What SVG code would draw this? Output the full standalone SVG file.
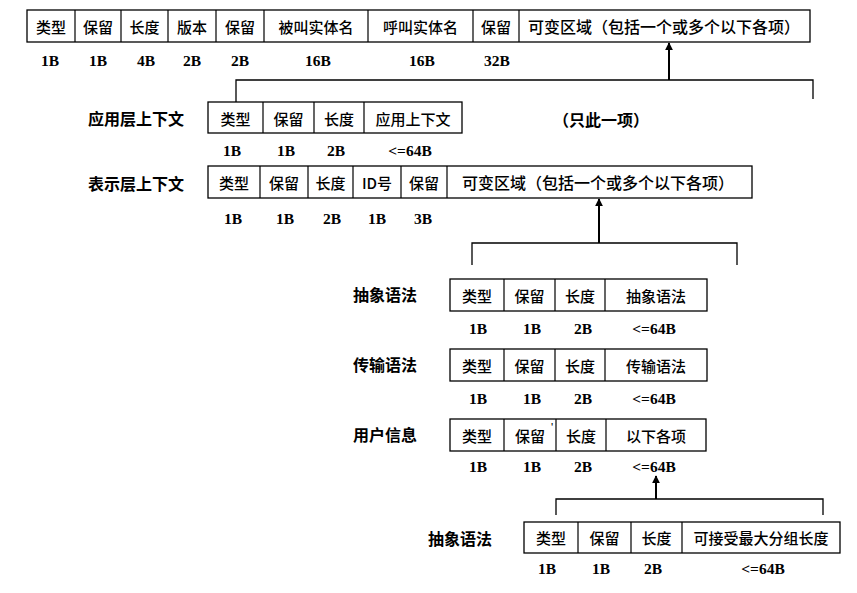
<svg xmlns="http://www.w3.org/2000/svg" width="857" height="593" viewBox="0 0 857 593">
<style>
.box{fill:#fff;stroke:#000;stroke-width:1.3}
.dv{stroke:#000;stroke-width:1.2}
.t{font-family:"Noto Sans CJK SC","Noto Sans",sans-serif;font-size:15px;font-weight:500;fill:#000;text-anchor:middle;dominant-baseline:central}
.lb{font-family:"Noto Sans CJK SC","Noto Sans",sans-serif;font-size:16px;font-weight:bold;fill:#000;dominant-baseline:central}
.n{font-family:"Liberation Serif","Noto Serif CJK SC",serif;font-size:15.5px;font-weight:bold;fill:#000;text-anchor:middle;dominant-baseline:central}
.cn{fill:none;stroke:#000;stroke-width:1.3}
.ar{fill:none;stroke:#000;stroke-width:2}
</style>
<defs>
<marker id="ah" viewBox="0 0 10 10" refX="9" refY="5" markerWidth="4" markerHeight="4.5" orient="auto" markerUnits="strokeWidth">
<path d="M0,0 L10,5 L0,10 z" fill="#000"/>
</marker>
</defs>
<rect width="857" height="593" fill="#fff"/>

<g id="top-pdu">
<rect class="box" x="27" y="10" width="783" height="32"/>
<path class="dv" d="M75,10V42M121,10V42M168,10V42M216,10V42M264,10V42M368,10V42M473,10V42M519,10V42"/>
<text class="t" x="51" y="26">类型</text>
<text class="t" x="98" y="26">保留</text>
<text class="t" x="144.5" y="26">长度</text>
<text class="t" x="192" y="26">版本</text>
<text class="t" x="240" y="26">保留</text>
<text class="t" x="316" y="26">被叫实体名</text>
<text class="t" x="420.5" y="26">呼叫实体名</text>
<text class="t" x="496" y="26">保留</text>
<text class="t" x="664" y="26" style="font-size:16px">可变区域（包括一个或多个以下各项）</text>
<text class="n" x="50" y="60">1B</text>
<text class="n" x="98" y="60">1B</text>
<text class="n" x="146" y="60">4B</text>
<text class="n" x="192" y="60">2B</text>
<text class="n" x="240" y="60">2B</text>
<text class="n" x="318" y="60">16B</text>
<text class="n" x="422" y="60">16B</text>
<text class="n" x="497" y="60">32B</text>
</g>

<g id="app-context">
<text class="lb" x="88" y="118">应用层上下文</text>
<rect class="box" x="208" y="102" width="254" height="31"/>
<path class="dv" d="M263,102V133M314,102V133M364,102V133"/>
<text class="t" x="235.5" y="118">类型</text>
<text class="t" x="288.5" y="118">保留</text>
<text class="t" x="339" y="118">长度</text>
<text class="t" x="413" y="118">应用上下文</text>
<text class="n" x="232" y="150">1B</text>
<text class="n" x="286" y="150">1B</text>
<text class="n" x="336" y="150">2B</text>
<text class="n" x="410" y="150">&lt;=64B</text>
<text class="lb" x="553" y="119">（只此一项）</text>
</g>

<g id="pres-context">
<text class="lb" x="88" y="183">表示层上下文</text>
<rect class="box" x="208" y="166" width="544" height="32"/>
<path class="dv" d="M260,166V198M308,166V198M353,166V198M401,166V198M447,166V198"/>
<text class="t" x="234" y="182">类型</text>
<text class="t" x="284" y="182">保留</text>
<text class="t" x="330.5" y="182">长度</text>
<text class="t" x="377" y="182">ID号</text>
<text class="t" x="424" y="182">保留</text>
<text class="t" x="598" y="182" style="font-size:16px">可变区域（包括一个或多个以下各项）</text>
<text class="n" x="233" y="218">1B</text>
<text class="n" x="285" y="218">1B</text>
<text class="n" x="332" y="218">2B</text>
<text class="n" x="377" y="218">1B</text>
<text class="n" x="423" y="218">3B</text>
</g>

<g id="abstract-syntax">
<text class="lb" x="353" y="294">抽象语法</text>
<rect class="box" x="450" y="279" width="257" height="32"/>
<path class="dv" d="M504,279V311M555,279V311M605,279V311"/>
<text class="t" x="477" y="295">类型</text>
<text class="t" x="529.5" y="295">保留</text>
<text class="t" x="580" y="295">长度</text>
<text class="t" x="656" y="295">抽象语法</text>
<text class="n" x="478" y="328">1B</text>
<text class="n" x="532" y="328">1B</text>
<text class="n" x="583" y="328">2B</text>
<text class="n" x="654" y="328">&lt;=64B</text>
</g>

<g id="transfer-syntax">
<text class="lb" x="353" y="364">传输语法</text>
<rect class="box" x="450" y="349" width="257" height="32"/>
<path class="dv" d="M504,349V381M555,349V381M605,349V381"/>
<text class="t" x="477" y="365">类型</text>
<text class="t" x="529.5" y="365">保留</text>
<text class="t" x="580" y="365">长度</text>
<text class="t" x="656" y="365">传输语法</text>
<text class="n" x="478" y="398">1B</text>
<text class="n" x="532" y="398">1B</text>
<text class="n" x="583" y="398">2B</text>
<text class="n" x="654" y="398">&lt;=64B</text>
</g>

<g id="user-info">
<text class="lb" x="353" y="434">用户信息</text>
<rect class="box" x="450" y="419" width="256" height="32"/>
<path class="dv" d="M504,419V451M556,419V451M606,419V451"/>
<text class="t" x="477" y="435">类型</text>
<text class="t" x="530" y="435">保留</text>
<text class="t" x="581" y="435">长度</text>
<text class="t" x="656" y="435">以下各项</text>
<text class="t" x="552" y="426" style="font-size:9px">'</text>
<text class="n" x="478" y="466">1B</text>
<text class="n" x="532" y="466">1B</text>
<text class="n" x="583" y="466">2B</text>
<text class="n" x="654" y="466">&lt;=64B</text>
</g>

<g id="max-pdu">
<text class="lb" x="428" y="538">抽象语法</text>
<rect class="box" x="524" y="522" width="316" height="31"/>
<path class="dv" d="M578,522V553M631,522V553M682,522V553"/>
<text class="t" x="551" y="537.5">类型</text>
<text class="t" x="604.5" y="537.5">保留</text>
<text class="t" x="656.5" y="537.5">长度</text>
<text class="t" x="761" y="537.5">可接受最大分组长度</text>
<text class="n" x="547" y="568">1B</text>
<text class="n" x="601" y="568">1B</text>
<text class="n" x="653" y="568">2B</text>
<text class="n" x="763" y="568">&lt;=64B</text>
</g>

<g id="connectors">
<path class="cn" d="M236,102V80H813V99"/>
<path class="ar" d="M669,80V43" marker-end="url(#ah)"/>
<path class="cn" d="M472,265V243H737V265"/>
<path class="ar" d="M599,243V199" marker-end="url(#ah)"/>
<path class="cn" d="M556,515V499H823V515"/>
<path class="ar" d="M656,499V476" marker-end="url(#ah)"/>
</g>
</svg>
